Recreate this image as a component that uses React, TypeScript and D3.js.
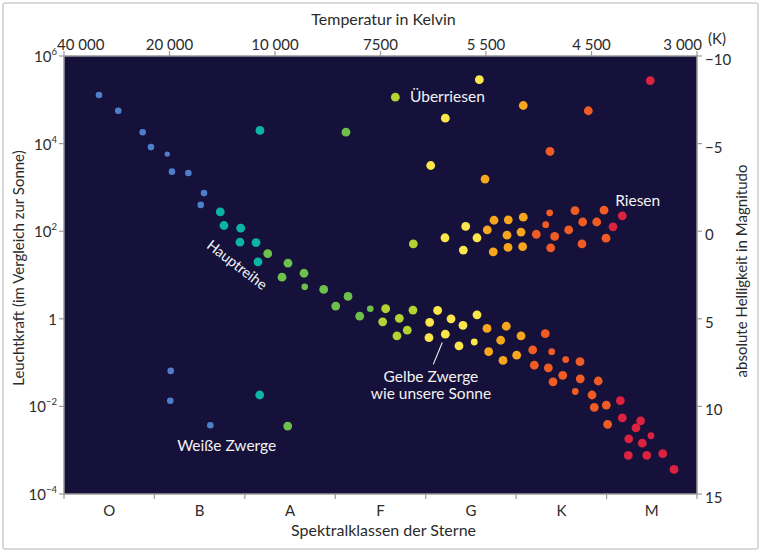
import React from 'react';
import * as d3 from 'd3';

const spectralClasses = ['O', 'B', 'A', 'F', 'G', 'K', 'M'];
const temperatureTicks = ['40 000', '20 000', '10 000', '7500', '5 500', '4 500', '3 000'];
const luminosityExponents = [6, 4, 2, 0, -2, -4];
const magnitudeTicks = [-10, -5, 0, 5, 10, 15];

// each star: [spectral position (0 = start of O, 7 = end of M), log10 luminosity (Sun = 0)]
const blueStars: [number, number][] = [
  [0.387, 5.11], [0.6, 4.75], [0.87, 4.26], [0.962, 3.92], [1.194, 3.36], [1.375, 3.33],
  [1.548, 2.87], [1.512, 2.6], [1.18, -1.19], [1.175, -1.87], [1.618, -2.43],
];
const blueMinor: [number, number][] = [[1.142, 3.76]];
const tealStars: [number, number][] = [
  [1.728, 2.44], [1.769, 2.13], [1.954, 2.07], [1.946, 1.75], [2.123, 1.74], [2.145, 1.3],
  [2.167, 4.3], [2.164, -1.74],
];
const greenStars: [number, number][] = [
  [3.118, 4.26], [2.253, 1.49], [2.477, 1.27], [2.654, 1.04], [2.411, 0.95], [2.872, 0.67],
  [3.141, 0.51], [3.005, 0.29], [3.27, 0.06], [2.474, -2.45],
];
const greenMinor: [number, number][] = [[2.662, 0.73], [3.387, 0.23]];
const limeStars: [number, number][] = [
  [3.664, 5.06], [3.863, 1.71], [3.557, 0.23], [3.524, -0.07], [3.708, 0.01], [3.859, 0.2],
  [3.682, -0.39], [3.796, -0.26],
];
const yellowStars: [number, number][] = [
  [4.593, 5.46], [4.217, 4.58], [4.055, 3.5], [4.213, 1.85], [4.442, 2.11], [4.416, 1.57],
  [4.567, 1.85], [4.132, 0.19], [4.044, -0.08], [4.28, 0.0], [4.412, -0.15], [4.567, 0.09],
  [4.036, -0.43], [4.217, -0.35], [4.368, -0.62],
];
const yellowMinor: [number, number][] = [[4.537, -0.53]];
const amberStars: [number, number][] = [
  [5.079, 4.87], [4.656, 3.19], [4.755, 2.25], [4.681, 2.03], [4.747, 1.53], [4.913, 2.26],
  [4.899, 1.91], [4.91, 1.63], [5.079, 2.32], [5.054, 1.98], [5.072, 1.65], [4.678, -0.22],
  [4.891, -0.17], [4.829, -0.49], [5.054, -0.39], [4.696, -0.75], [4.855, -0.95], [5.006, -0.83],
];
const orangeStars: [number, number][] = [
  [5.798, 4.75], [5.374, 3.82], [5.223, 1.93], [5.426, 1.88], [5.382, 1.62], [5.651, 2.47],
  [5.736, 2.21], [5.581, 2.03], [5.891, 2.21], [5.728, 1.71], [5.972, 2.48], [5.994, 1.84],
  [5.322, -0.34], [5.183, -0.71], [5.706, -0.98], [5.201, -1.06], [5.356, -1.12], [5.515, -1.29],
  [5.408, -1.44], [5.709, -1.37], [5.908, -1.42], [5.839, -1.74], [5.864, -2.02], [5.997, -1.97],
  [6.012, -2.41],
];
const orangeMinor: [number, number][] = [
  [5.371, 2.42], [5.327, 2.15], [5.393, -0.75], [5.548, -0.93], [5.654, -1.66],
];
const redStars: [number, number][] = [
  [6.483, 5.44], [6.174, 2.35], [6.071, 2.1], [6.152, -1.87], [6.174, -2.26], [6.377, -2.33],
  [6.325, -2.49], [6.245, -2.74], [6.395, -2.84], [6.24, -3.12], [6.444, -3.12], [6.621, -3.08],
  [6.746, -3.44],
];
const redMinor: [number, number][] = [[6.491, -2.67]];

const W = 761;
const H = 552;
const plot = { left: 64, right: 697, top: 56, bottom: 494 };
const BG = '#15113a';
const AXIS = '#9b9b9b';
const TEXT = '#2b2b2b';

const groups = [
  { data: blueStars, color: '#4f7ecb', r: 3.3 },
  { data: blueMinor, color: '#4f7ecb', r: 2.7 },
  { data: tealStars, color: '#0cb4a7', r: 4.4 },
  { data: greenStars, color: '#6dc04b', r: 4.4 },
  { data: greenMinor, color: '#6dc04b', r: 3.3 },
  { data: limeStars, color: '#b5d232', r: 4.4 },
  { data: yellowStars, color: '#fbe64b', r: 4.4 },
  { data: yellowMinor, color: '#fbe64b', r: 3.4 },
  { data: amberStars, color: '#f8a61d', r: 4.4 },
  { data: orangeStars, color: '#f15b24', r: 4.4 },
  { data: orangeMinor, color: '#f15b24', r: 3.4 },
  { data: redStars, color: '#db2240', r: 4.4 },
  { data: redMinor, color: '#db2240', r: 3.4 },
];

export default function App() {
  const x = d3.scaleLinear().domain([0, spectralClasses.length]).range([plot.left, plot.right]);
  const band = d3.scaleBand().domain(spectralClasses).range([plot.left, plot.right]);
  const tempX = d3.scalePoint().domain(temperatureTicks).range([plot.left, plot.right]);
  const y = d3.scaleLog().domain([1e-4, 1e6]).range([plot.bottom, plot.top]);
  const mag = d3.scaleLinear().domain([-10, 15]).range([plot.top, plot.bottom]);
  const py = (e: number) => y(Math.pow(10, e));

  const boundaries = d3.range(spectralClasses.length + 1);
  const font = 'Lato, "Open Sans", sans-serif';
  const nT = temperatureTicks.length;

  const hx = x(1.913), hy = py(1.23);

  return (
    <svg width={W} height={H} style={{ position: 'absolute', left: 0, top: 0, background: '#fff' }} fontFamily={font}>
      <rect x={3} y={3} width={755} height={546} rx={2} fill="#fff" stroke="#cdcdcd" strokeWidth={1.5} />
      <rect x={plot.left} y={plot.top} width={plot.right - plot.left} height={plot.bottom - plot.top} fill={BG} stroke={AXIS} strokeWidth={1.5} />

      {/* top temperature axis */}
      {temperatureTicks.map((t, i) => {
        const tx = tempX(t) ?? 0;
        const anchor = i === 0 ? 'start' : i === nT - 1 ? 'end' : 'middle';
        const lx = i === 0 ? tx - 7 : i === nT - 1 ? tx + 5 : tx;
        return (
          <g key={t}>
            <line x1={tx} x2={tx} y1={plot.top} y2={plot.top - 5} stroke={AXIS} strokeWidth={1.2} />
            <text x={lx} y={plot.top - 6} textAnchor={anchor} fontSize={15} fill={TEXT}>{t}</text>
          </g>
        );
      })}
      <text x={708} y={44} textAnchor="start" fontSize={15} fill={TEXT}>(K)</text>
      <text x={(plot.left + plot.right) / 2 + 3} y={25} textAnchor="middle" fontSize={16} fill={TEXT}>Temperatur in Kelvin</text>

      {/* left luminosity axis */}
      {luminosityExponents.map((e) => (
        <g key={e}>
          <line x1={plot.left} x2={plot.left - 5} y1={py(e)} y2={py(e)} stroke={AXIS} strokeWidth={1.2} />
          <text x={plot.left - 7} y={py(e) + 6} textAnchor="end" fontSize={15} fill={TEXT}>
            {e === 0 ? '1' : (
              <>
                10<tspan fontSize={9.5} dy={-7}>{e < 0 ? '\u2212' + Math.abs(e) : String(e)}</tspan>
              </>
            )}
          </text>
        </g>
      ))}
      <text transform={`translate(24,${(plot.top + plot.bottom) / 2 - 7}) rotate(-90)`} textAnchor="middle" fontSize={15} fill={TEXT}>
        Leuchtkraft (im Vergleich zur Sonne)
      </text>

      {/* right magnitude axis */}
      {magnitudeTicks.map((m) => (
        <g key={m}>
          <line x1={plot.right} x2={plot.right + 5} y1={mag(m)} y2={mag(m)} stroke={AXIS} strokeWidth={1.2} />
          <text x={plot.right + 8} y={mag(m) + 9} textAnchor="start" fontSize={15} fill={TEXT}>
            {m < 0 ? '\u2212' + Math.abs(m) : String(m)}
          </text>
        </g>
      ))}
      <text transform={`translate(747,${(plot.top + plot.bottom) / 2 - 4}) rotate(-90)`} textAnchor="middle" fontSize={15} fill={TEXT}>
        absolute Helligkeit in Magnitudo
      </text>

      {/* bottom spectral class axis */}
      {boundaries.map((b) => (
        <line key={b} x1={x(b)} x2={x(b)} y1={plot.bottom} y2={plot.bottom + 5} stroke={AXIS} strokeWidth={1.2} />
      ))}
      {spectralClasses.map((c) => (
        <text key={c} x={(band(c) ?? 0) + band.bandwidth() / 2} y={plot.bottom + 22} textAnchor="middle" fontSize={15} fill={TEXT}>{c}</text>
      ))}
      <text x={(plot.left + plot.right) / 2 + 3} y={plot.bottom + 42} textAnchor="middle" fontSize={16} fill={TEXT}>Spektralklassen der Sterne</text>

      {/* stars */}
      {groups.map((g, gi) => (
        <g key={gi} fill={g.color}>
          {g.data.map(([s, l], i) => (
            <circle key={i} cx={x(s)} cy={py(l)} r={g.r} />
          ))}
        </g>
      ))}

      {/* annotations */}
      <g fill="#f2f2f2" fontSize={15.5}>
        <text x={x(3.826)} y={py(5.06) + 5} textAnchor="start">Überriesen</text>
        <text x={x(6.344)} y={py(2.7) + 5} textAnchor="middle">Riesen</text>
        <text transform={`translate(${hx},${hy}) rotate(37.5)`} textAnchor="middle" dy={5} fontSize={14.5}>Hauptreihe</text>
        <text x={x(4.058)} y={py(-1.33) + 5} textAnchor="middle">Gelbe Zwerge</text>
        <text x={x(4.058)} y={py(-1.72) + 5} textAnchor="middle">wie unsere Sonne</text>
        <text x={x(1.799)} y={py(-2.9) + 5} textAnchor="middle">Weiße Zwerge</text>
      </g>
      <line x1={x(4.183)} y1={py(-0.54)} x2={x(4.084)} y2={py(-1.04)} stroke="#f2f2f2" strokeWidth={1.1} />
    </svg>
  );
}
